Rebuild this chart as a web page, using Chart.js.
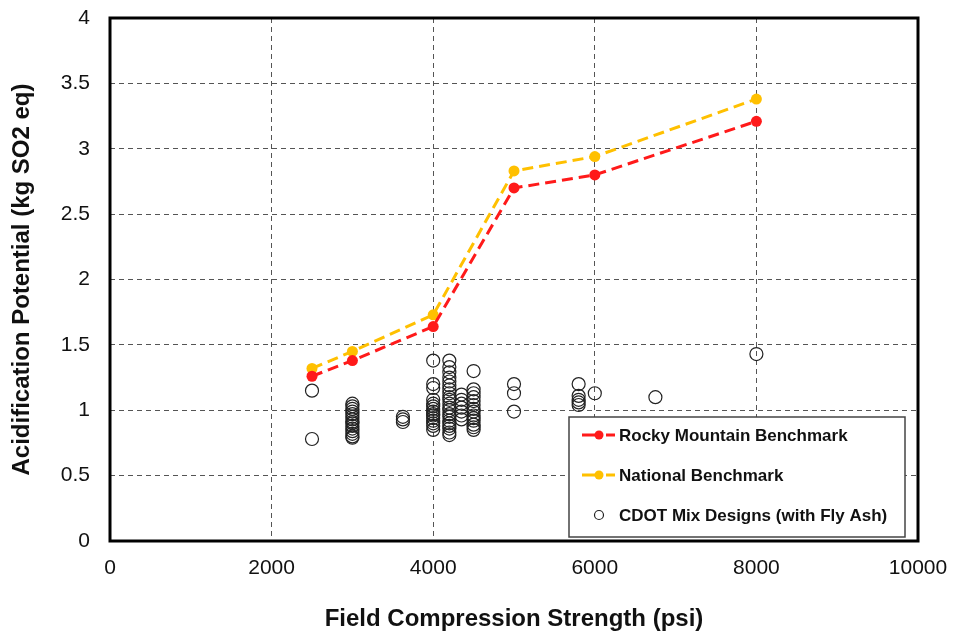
<!DOCTYPE html>
<html>
<head>
<meta charset="utf-8">
<script src="https://cdn.jsdelivr.net/npm/chart.js@4.4.1/dist/chart.umd.min.js"></script>
<style>
  body { margin: 0; background: #fff; }
</style>
</head>
<body>
<canvas id="chart" width="954" height="634"></canvas>
<script>
// benchmark lines
const benchmarkStrength = [2500, 3000, 4000, 5000, 6000, 8000];
const rockyMountain = [1.26, 1.38, 1.64, 2.70, 2.80, 3.21];
const national = [1.32, 1.45, 1.73, 2.83, 2.94, 3.38];

// CDOT mix designs, one list of values per strength
const mixStrength = [2500, 3000, 3625, 4000, 4200, 4350, 4500, 5000, 5800, 6000, 6750, 8000];
const mixValues = [
    [0.78, 1.15],
    [0.79, 0.80, 0.82, 0.84, 0.86, 0.88, 0.90, 0.91, 0.93, 0.95, 0.97, 0.99, 1.01, 1.03, 1.05],
    [0.91, 0.93, 0.95],
    [0.85, 0.88, 0.90, 0.92, 0.94, 0.96, 0.97, 0.99, 1.01, 1.03, 1.05, 1.08, 1.17, 1.20, 1.38],
    [0.81, 0.83, 0.86, 0.88, 0.90, 0.92, 0.95, 0.97, 1.00, 1.02, 1.05, 1.08, 1.10, 1.13, 1.16, 1.19, 1.22, 1.25, 1.29, 1.33, 1.38],
    [0.93, 0.96, 0.99, 1.02, 1.05, 1.08, 1.12],
    [0.85, 0.87, 0.89, 0.92, 0.94, 0.96, 0.99, 1.01, 1.04, 1.07, 1.10, 1.13, 1.16, 1.30],
    [0.99, 1.13, 1.20],
    [1.04, 1.06, 1.08, 1.11, 1.20],
    [1.13],
    [1.10],
    [1.43]
];

const xTicks = [0, 2000, 4000, 6000, 8000, 10000];
const yTicks = [0, 0.5, 1, 1.5, 2, 2.5, 3, 3.5, 4];

const toPoints = (xs, ys) => xs.map((x, i) => ({ x: x, y: ys[i] }));
const mixPoints = [];
mixStrength.forEach((s, i) => mixValues[i].forEach(v => mixPoints.push({ x: s, y: v })));

const RED = '#ff1a1a';
const GOLD = '#ffc000';
const FONT = '"Liberation Sans", Arial, sans-serif';

// legend box drawn inside the plot area, lower right
const boxLegend = {
    id: 'boxLegend',
    afterDraw(chart) {
        const ctx = chart.ctx;
        const a = chart.chartArea;
        ctx.save();
        // plot frame
        ctx.strokeStyle = '#000';
        ctx.lineWidth = 3;
        ctx.strokeRect(a.left, a.top, a.right - a.left, a.bottom - a.top);

        const w = 336, h = 120;
        const bx = a.right - 13 - w, by = a.bottom - 4 - h;
        ctx.fillStyle = '#fff';
        ctx.fillRect(bx, by, w, h);
        ctx.strokeStyle = '#444';
        ctx.lineWidth = 1.5;
        ctx.strokeRect(bx, by, w, h);

        ctx.font = 'bold 17px ' + FONT;
        ctx.textBaseline = 'middle';
        chart.data.datasets.forEach((ds, i) => {
            const cy = by + 18 + i * 40;
            const mx = bx + 30;
            if (ds.showLine) {
                ctx.strokeStyle = ds.borderColor;
                ctx.lineWidth = 3;
                ctx.beginPath();
                ctx.moveTo(bx + 13, cy); ctx.lineTo(mx, cy);
                ctx.moveTo(mx + 7, cy); ctx.lineTo(mx + 16, cy);
                ctx.stroke();
                ctx.fillStyle = ds.borderColor;
                ctx.beginPath();
                ctx.arc(mx, cy, 4.5, 0, Math.PI * 2);
                ctx.fill();
            } else {
                ctx.strokeStyle = '#222';
                ctx.lineWidth = 1.2;
                ctx.beginPath();
                ctx.arc(mx, cy, 4.5, 0, Math.PI * 2);
                ctx.stroke();
            }
            ctx.fillStyle = '#111';
            ctx.fillText(ds.label, bx + 50, cy + 1);
        });
        ctx.restore();
    }
};

new Chart(document.getElementById('chart'), {
    type: 'scatter',
    data: {
        datasets: [{
            label: 'Rocky Mountain Benchmark',
            data: toPoints(benchmarkStrength, rockyMountain),
            showLine: true,
            borderColor: RED,
            backgroundColor: RED,
            borderWidth: 3,
            borderDash: [11, 6],
            pointRadius: 5.5,
            pointBorderWidth: 0
        }, {
            label: 'National Benchmark',
            data: toPoints(benchmarkStrength, national),
            showLine: true,
            borderColor: GOLD,
            backgroundColor: GOLD,
            borderWidth: 3,
            borderDash: [11, 6],
            pointRadius: 5.5,
            pointBorderWidth: 0
        }, {
            label: 'CDOT Mix Designs (with Fly Ash)',
            data: mixPoints,
            showLine: false,
            borderColor: '#222',
            backgroundColor: 'rgba(0,0,0,0)',
            borderWidth: 1.2,
            pointRadius: 6.5
        }]
    },
    options: {
        responsive: false,
        animation: false,
        layout: { padding: { left: 0, right: 36, top: 18, bottom: 0 } },
        plugins: {
            legend: { display: false },
            tooltip: { enabled: false }
        },
        scales: {
            x: {
                type: 'linear',
                min: 0,
                max: 10000,
                afterBuildTicks: s => { s.ticks = xTicks.map(v => ({ value: v })); },
                afterFit: s => { s.height = 93; s.paddingLeft = 0; s.paddingRight = 0; },
                grid: { color: '#555', lineWidth: 1, drawTicks: false },
                border: { display: false, dash: [5, 4] },
                ticks: {
                    padding: 15,
                    color: '#111',
                    font: { family: FONT, size: 21 },
                    callback: v => String(v)
                },
                title: {
                    display: true,
                    text: 'Field Compression Strength (psi)',
                    color: '#111',
                    padding: { top: 10, bottom: 0 },
                    font: { family: FONT, size: 24, weight: 'bold' }
                }
            },
            y: {
                min: 0,
                max: 4,
                afterBuildTicks: s => { s.ticks = yTicks.map(v => ({ value: v })); },
                afterFit: s => { s.width = 110; s.paddingTop = 0; s.paddingBottom = 0; },
                grid: { color: '#555', lineWidth: 1, drawTicks: false },
                border: { display: false, dash: [5, 4] },
                ticks: {
                    padding: 20,
                    color: '#111',
                    font: { family: FONT, size: 21 },
                    callback: v => String(v)
                },
                title: {
                    display: true,
                    text: 'Acidification Potential (kg SO2 eq)',
                    color: '#111',
                    padding: { top: 8, bottom: 4 },
                    font: { family: FONT, size: 24, weight: 'bold' }
                }
            }
        }
    },
    plugins: [boxLegend]
});
</script>
</body>
</html>
